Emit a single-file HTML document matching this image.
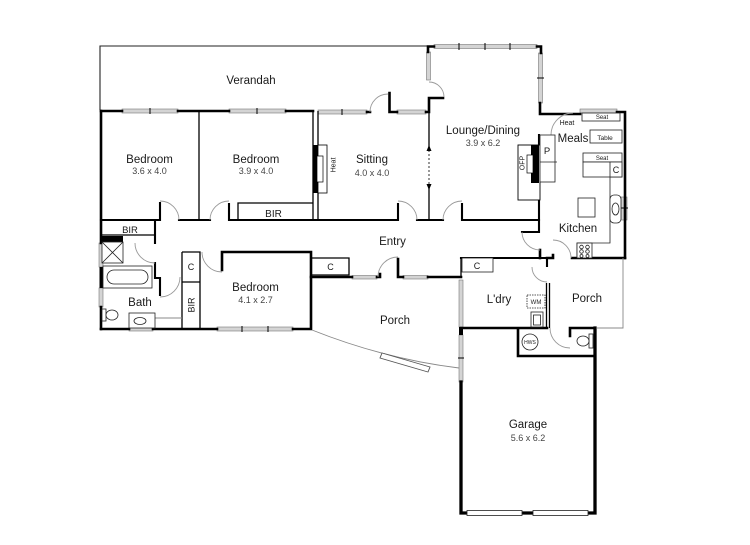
<!DOCTYPE html>
<html><head><meta charset="utf-8"><style>
html,body{margin:0;padding:0;background:#fff;}
svg{display:block;}
text{font-family:"Liberation Sans",sans-serif;fill:#1a1a1a;}
.n{font-size:11.5px;text-anchor:middle;}
.d{font-size:9px;text-anchor:middle;fill:#444;}
.s{font-size:7px;text-anchor:middle;}
</style></head><body>
<svg width="750" height="545" viewBox="0 0 750 545" xmlns="http://www.w3.org/2000/svg">
<rect width="750" height="545" fill="#fff"/>

<!-- Verandah outline -->
<path d="M100,110 V46 H428" fill="none" stroke="#222" stroke-width="1.1"/>

<!-- windows -->
<g fill="#d4d4d4" stroke="#777" stroke-width="0.6">
 <rect x="122" y="109" width="56" height="4"/>
 <rect x="229" y="109" width="57" height="4"/>
 <rect x="318" y="110" width="49" height="4"/>
 <rect x="397" y="110" width="29" height="4"/>
 <rect x="426.5" y="52" width="4" height="28"/>
 <rect x="434" y="44.5" width="103" height="4"/>
 <rect x="538.5" y="53" width="4" height="50"/>
 <rect x="580" y="109" width="37" height="4"/>
 <rect x="621" y="197" width="6" height="23"/>
 <rect x="99" y="243" width="4" height="24"/>
 <rect x="99" y="288" width="4" height="19"/>
 <rect x="129" y="327" width="24" height="4"/>
 <rect x="217" y="327" width="76" height="4"/>
 <rect x="352" y="275.5" width="25" height="3.5"/>
 <rect x="403" y="275.5" width="25" height="3.5"/>
 <rect x="459" y="280" width="4" height="47"/>
 <rect x="459" y="335" width="4" height="47"/>
</g>
<g stroke="#000" stroke-width="1">
 <path d="M150,108 V114 M257,108 V114 M342,109 V115 M459,43 V50 M485,43 V50 M510,43 V50 M537,78 H544 M242,326 V332 M268,326 V332 M458,358 H464 M620,208 H628"/>
</g>

<!-- thick walls -->
<g fill="none" stroke="#000" stroke-width="2.6" stroke-linecap="square">
 <path d="M101,111 H122 M178,111 H229 M286,111 H313"/>
 <path d="M101,111 V243 M101,307 V329"/>
 <path d="M101,329 H129 M153,329 H217 M293,329 H311 V252 H222 V270"/>
 <path d="M367,112 H370 M389.5,93 V112 H397 M426,112 H429 V98 H443"/>
 <path d="M428,52 V46.5 H434 M537,46.5 H541 V53 M540,103 V114 H580 M617,112 H625 V258"/>
 <path d="M572,258 H625 M547,258 H553 V255"/>
 <path d="M540,250 V258"/>
 <path d="M311,277 H352 M377,277 H380 V274 M398,259 V277 H403 M428,277 H461"/>
 <path d="M461,328 H547 M518,328 V356 H595 M570,328 H595 M570,328 V336"/>
</g>
<rect x="99.5" y="267" width="4" height="21" fill="#000"/>
<rect x="459" y="327" width="4" height="8" fill="#000"/>
<rect x="101" y="236" width="22" height="6" fill="#000"/>
<g fill="none" stroke="#000" stroke-width="3.3" stroke-linecap="square">
 <path d="M595,328 V513 H461 V382"/>
</g>

<!-- medium walls -->
<g fill="none" stroke="#000" stroke-width="2.1" stroke-linecap="square">
 <path d="M101,220 H160 V203"/>
 <path d="M179,220 H210"/>
 <path d="M229,204 V220 H398 V204"/>
 <path d="M417,220 H443"/>
 <path d="M462,204 V220 H539"/>
 <path d="M155,220 V243 M155,263 V278 H160 V295"/>
 <path d="M539,135 V232 H522"/>
 <path d="M461,258 H547 V266"/>
</g>

<!-- thin walls -->
<g fill="none" stroke="#000" stroke-width="1.3">
 <path d="M199,111 V220"/>
 <path d="M313,111 V220 M318,111 V220"/>
 <path d="M429,98 V147 M429,188 V220"/>
 <path d="M101,235 H155"/>
 <path d="M182,252 H200 V328 M182,252 V328 M182,282 H200"/>
 <path d="M546.5,283 V328 M549.5,283 V328"/>
 <path d="M461,258 V277"/>
 <path d="M238,220 V203 H313"/>
 <path d="M310,258 H349 V275 H312"/>
</g>
<path d="M429,150 V185" stroke="#000" stroke-width="0.8" stroke-dasharray="2,2"/>
<path d="M426.5,151 L429,145 L431.5,151 Z M426.5,184 L429,190 L431.5,184 Z" fill="#000"/>

<!-- hairlines -->
<g fill="none" stroke="#888" stroke-width="0.9">
 <path d="M312,330 Q385,359 459,368"/>
 <path d="M382,353 L430,367 L428,372 L380,358 Z" fill="#fff" stroke="#555"/>
 <path d="M623,258 V328 H597"/>
 <path d="M155,318 H182"/>
</g>

<!-- door arcs -->
<g fill="none" stroke="#999" stroke-width="0.9">
 <path d="M160,201 A19,19 0 0 1 179,220"/>
 <path d="M229,201 A19,19 0 0 0 210,220"/>
 <path d="M398,201 A19,19 0 0 1 417,220"/>
 <path d="M462,201 A19,19 0 0 0 443,220"/>
 <path d="M370,112 A18,18 0 0 1 388,94"/>
 <path d="M429,82 A15,15 0 0 1 444,97"/>
 <path d="M551,135 A22,22 0 0 1 573,113"/>
 <path d="M522,232 A18,18 0 0 0 540,250"/>
 <path d="M571,258 A18,18 0 0 0 553,240"/>
 <path d="M135,243 A20,20 0 0 0 155,263"/>
 <path d="M160,297 A20,20 0 0 0 180,277"/>
 <path d="M202,252 A20,20 0 0 0 222,272"/>
 <path d="M378,277 A20,20 0 0 1 398,257"/>
 <path d="M532,267 A15,15 0 0 0 547,282"/>
 <path d="M550,328 A20,20 0 0 0 570,348"/>
</g>

<!-- fireplaces -->
<rect x="313" y="145" width="9" height="48" fill="#000"/>
<rect x="318" y="145" width="9" height="48" fill="#fff" stroke="#000" stroke-width="0.8"/>
<rect x="313" y="145" width="5" height="48" fill="#000"/>
<rect x="317" y="156" width="6" height="26" fill="#fff" stroke="#000" stroke-width="0.7"/>
<rect x="518" y="145" width="22" height="55" fill="#fff" stroke="#000" stroke-width="0.9"/>
<rect x="531" y="145" width="8" height="38" fill="#000"/>
<rect x="527" y="155" width="6" height="18" fill="#fff" stroke="#000" stroke-width="0.7"/>

<!-- fixtures -->
<g fill="#fff" stroke="#222" stroke-width="0.8">
 <rect x="582" y="113" width="38" height="8"/>
 <rect x="540" y="135" width="15" height="47"/>
 <path d="M540,162 H557" fill="none"/>
 <rect x="590" y="130" width="32" height="13"/>
 <rect x="583" y="153" width="39" height="9"/>
 <rect x="583" y="162" width="39" height="15"/>
 <rect x="610" y="162" width="12" height="15"/>
 <path d="M610,177 V243 H577 V258" fill="none"/>
 <rect x="610" y="195" width="11" height="28" rx="4"/>
 <ellipse cx="615.5" cy="209" rx="3.5" ry="6"/>
 <rect x="578" y="198" width="17" height="19"/>
 <rect x="577" y="243" width="15" height="15"/>
 <circle cx="581.5" cy="247" r="1.8"/><circle cx="587.5" cy="247" r="1.8"/>
 <circle cx="581.5" cy="251.5" r="1.8"/><circle cx="587.5" cy="251.5" r="1.8"/>
 <circle cx="581.5" cy="256" r="1.5"/><circle cx="587.5" cy="256" r="1.5"/>
 <rect x="102" y="242" width="21" height="21"/>
 <path d="M102,242 L123,263 M123,242 L102,263" fill="none"/>
 <rect x="103" y="266" width="49" height="22"/>
 <rect x="107" y="270" width="41" height="14" rx="7"/>
 <rect x="102" y="309" width="4" height="12"/>
 <ellipse cx="112" cy="315" rx="6" ry="5"/>
 <rect x="129" y="313" width="26" height="15"/>
 <ellipse cx="140" cy="321" rx="6" ry="3.5"/>
 <rect x="462" y="258" width="31" height="14"/>
 <rect x="527" y="295" width="18" height="13" stroke-dasharray="1.5,1"/>
 <rect x="531" y="312" width="12" height="15"/>
 <rect x="533.5" y="315" width="7" height="10"/>
 <circle cx="530" cy="342" r="8"/>
 <rect x="589" y="334" width="4" height="14"/>
 <ellipse cx="583" cy="341" rx="6" ry="5"/>
 <rect x="467" y="510.5" width="55" height="5"/>
 <rect x="533" y="510.5" width="55" height="5"/>
</g>

<!-- labels -->
<text class="n" x="251" y="84">Verandah</text>
<text class="n" x="149.5" y="163">Bedroom</text>
<text class="d" x="149.5" y="174">3.6 x 4.0</text>
<text class="n" x="256" y="163">Bedroom</text>
<text class="d" x="256" y="174">3.9 x 4.0</text>
<text class="n" x="372" y="163">Sitting</text>
<text class="d" x="372" y="176">4.0 x 4.0</text>
<text class="n" x="483" y="134">Lounge/Dining</text>
<text class="d" x="483" y="146">3.9 x 6.2</text>
<text class="n" x="392.5" y="245">Entry</text>
<text class="n" x="255.5" y="291">Bedroom</text>
<text class="d" x="255.5" y="303">4.1 x 2.7</text>
<text class="n" x="140" y="306">Bath</text>
<text class="n" x="395" y="324">Porch</text>
<text class="n" x="499" y="303">L'dry</text>
<text class="n" x="587" y="302">Porch</text>
<text class="n" x="528" y="428">Garage</text>
<text class="d" x="528" y="441">5.6 x 6.2</text>
<text class="n" x="578" y="232">Kitchen</text>
<text class="n" x="573" y="142">Meals</text>
<text x="273.5" y="217" style="font-size:10px;text-anchor:middle">BIR</text>
<text x="130" y="233" style="font-size:9.5px;text-anchor:middle">BIR</text>
<text x="191" y="270" style="font-size:9px;text-anchor:middle">C</text>
<text x="330.5" y="270" style="font-size:9px;text-anchor:middle">C</text>
<text x="477" y="269" style="font-size:9px;text-anchor:middle">C</text>
<text x="616" y="173" style="font-size:9px;text-anchor:middle">C</text>
<text x="547" y="154" style="font-size:9.5px;text-anchor:middle">P</text>
<text transform="translate(194.5,305) rotate(-90)" style="font-size:9px;text-anchor:middle">BIR</text>
<text transform="translate(335.5,165) rotate(-90)" class="s">Heat</text>
<text transform="translate(524.5,163) rotate(-90)" class="s">OFP</text>
<text class="s" x="567" y="125">Heat</text>
<text class="s" x="605" y="140" style="font-size:6.5px">Table</text>
<text class="s" x="602" y="119" style="font-size:6px">Seat</text>
<text class="s" x="602" y="160" style="font-size:6px">Seat</text>
<text class="s" x="530" y="344" style="font-size:5px">HWS</text>
<text class="s" x="536" y="304" style="font-size:6px">WM</text>
</svg>
</body></html>
